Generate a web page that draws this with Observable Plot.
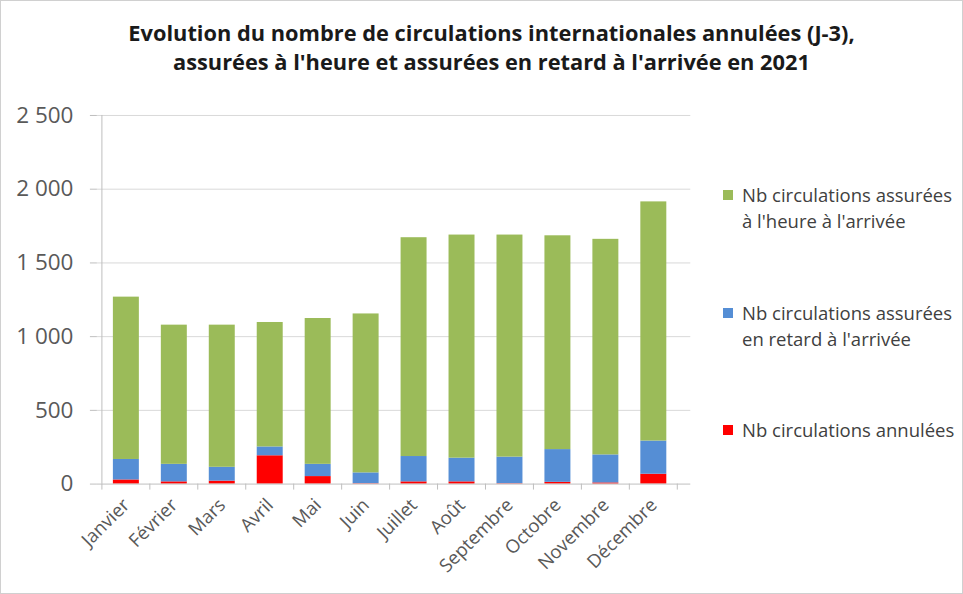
<!DOCTYPE html>
<html><head><meta charset="utf-8">
<script src="https://cdn.jsdelivr.net/npm/d3@7"></script>
<script src="https://cdn.jsdelivr.net/npm/@observablehq/plot@0.6"></script>
<style>
html,body{margin:0;padding:0;background:#fff;}
#wrap{position:relative;width:961px;height:592px;border:1px solid #d0d0d0;overflow:hidden;font-family:"Open Sans",sans-serif;}
#title{position:absolute;left:9px;top:17px;width:963px;text-align:center;font-weight:bold;font-size:21.8px;line-height:29px;color:#1a1a1a;}
#chart{position:absolute;left:-1px;top:94px;}
#legend{position:absolute;left:722px;top:0;font-size:18.5px;color:#404040;line-height:26px;}
.li{position:absolute;left:0;white-space:nowrap;}
.sw{position:absolute;left:0;top:8px;width:10px;height:10px;}
.lt{position:absolute;left:19px;top:0;}
</style></head>
<body><div id="wrap"><div id="title">Evolution du nombre de circulations internationales annulées (J-3),<br>assurées à l'heure et assurées en retard à l'arrivée en 2021</div><div id="chart"></div><div id="legend"></div></div>
<script>
const months = ["Janvier","Février","Mars","Avril","Mai","Juin","Juillet","Août","Septembre","Octobre","Novembre","Décembre"];
const seriesNames = ["Nb circulations annulées","Nb circulations assurées en retard à l'arrivée","Nb circulations assurées à l'heure à l'arrivée"];
const legendLines = [["Nb circulations assurées","à l'heure à l'arrivée"],["Nb circulations assurées","en retard à l'arrivée"],["Nb circulations annulées"]];
const seriesColors = ["#ff0000","#558ed5","#9bbb59"];
const annulees = [28, 15, 20, 192, 51, 3, 15, 15, 3, 12, 8, 67];
const retard   = [139, 119, 94, 60, 83, 73, 172, 161, 180, 222, 190, 225];
const heure    = [1101, 944, 964, 844, 989, 1078, 1484, 1513, 1506, 1450, 1462, 1622];
const yTicks = [0, 500, 1000, 1500, 2000, 2500];

const seriesValues = [annulees, retard, heure];
const rows = [];
seriesNames.forEach((s, si) => months.forEach((m, i) => rows.push({month: m, series: s, value: seriesValues[si][i]})));

const fmt = d => d3.format(",")(d).replace(/,/g, "\u00a0");

const plot = Plot.plot({
  width: 963,
  height: 494,
  marginLeft: 97,
  marginRight: 280,
  marginTop: 20,
  marginBottom: 105,
  style: {fontFamily: "'Open Sans', sans-serif", color: "#595959", background: "transparent"},
  x: {domain: months, paddingInner: 0.45, paddingOuter: 0.225, label: null},
  y: {domain: [0, 2500], label: null},
  color: {domain: seriesNames, range: seriesColors},
  marks: [
    Plot.ruleY(yTicks.filter(d => d > 0), {stroke: "#d9d9d9", strokeWidth: 1, insetRight: -8}),
    Plot.barY(rows, {x: "month", y: "value", fill: "series", order: seriesNames}),
    Plot.axisY({ticks: yTicks, tickFormat: fmt, tickSize: 7, tickPadding: 17, fontSize: 22.5, stroke: "#bfbfbf", color: "#595959"}),
    Plot.axisX({tickSize: 0, tickRotate: -45, tickPadding: 18, fontSize: 18.5, color: "#595959"}),
    Plot.ruleY([0], {stroke: "#bfbfbf", insetRight: -8})
  ]
});
document.getElementById("chart").appendChild(plot);

// y axis line and category boundary ticks via the plot's scales
const xs = plot.scale("x"), ys = plot.scale("y");
const svg = d3.select(plot);
const y0 = ys.apply(0), yTop = ys.apply(2500);
const left = xs.apply(months[0]) - (xs.step - xs.bandwidth) / 2;
svg.append("line").attr("x1", left).attr("x2", left).attr("y1", yTop).attr("y2", y0).attr("stroke", "#bfbfbf");
for (let i = 0; i <= months.length; i++) {
  const x = left + i * xs.step;
  svg.append("line").attr("x1", x).attr("x2", x).attr("y1", y0).attr("y2", y0 + 6).attr("stroke", "#bfbfbf");
}

// legend
const lg = document.getElementById("legend");
const legendTops = [181, 299, 416];
const legendColors = [seriesColors[2], seriesColors[1], seriesColors[0]];
legendLines.forEach((lines, i) => {
  const div = document.createElement("div");
  div.className = "li";
  div.style.top = legendTops[i] + "px";
  div.innerHTML = `<div class="sw" style="background:${legendColors[i]}"></div><div class="lt">${lines.join("<br>")}</div>`;
  lg.appendChild(div);
});
</script></body></html>
